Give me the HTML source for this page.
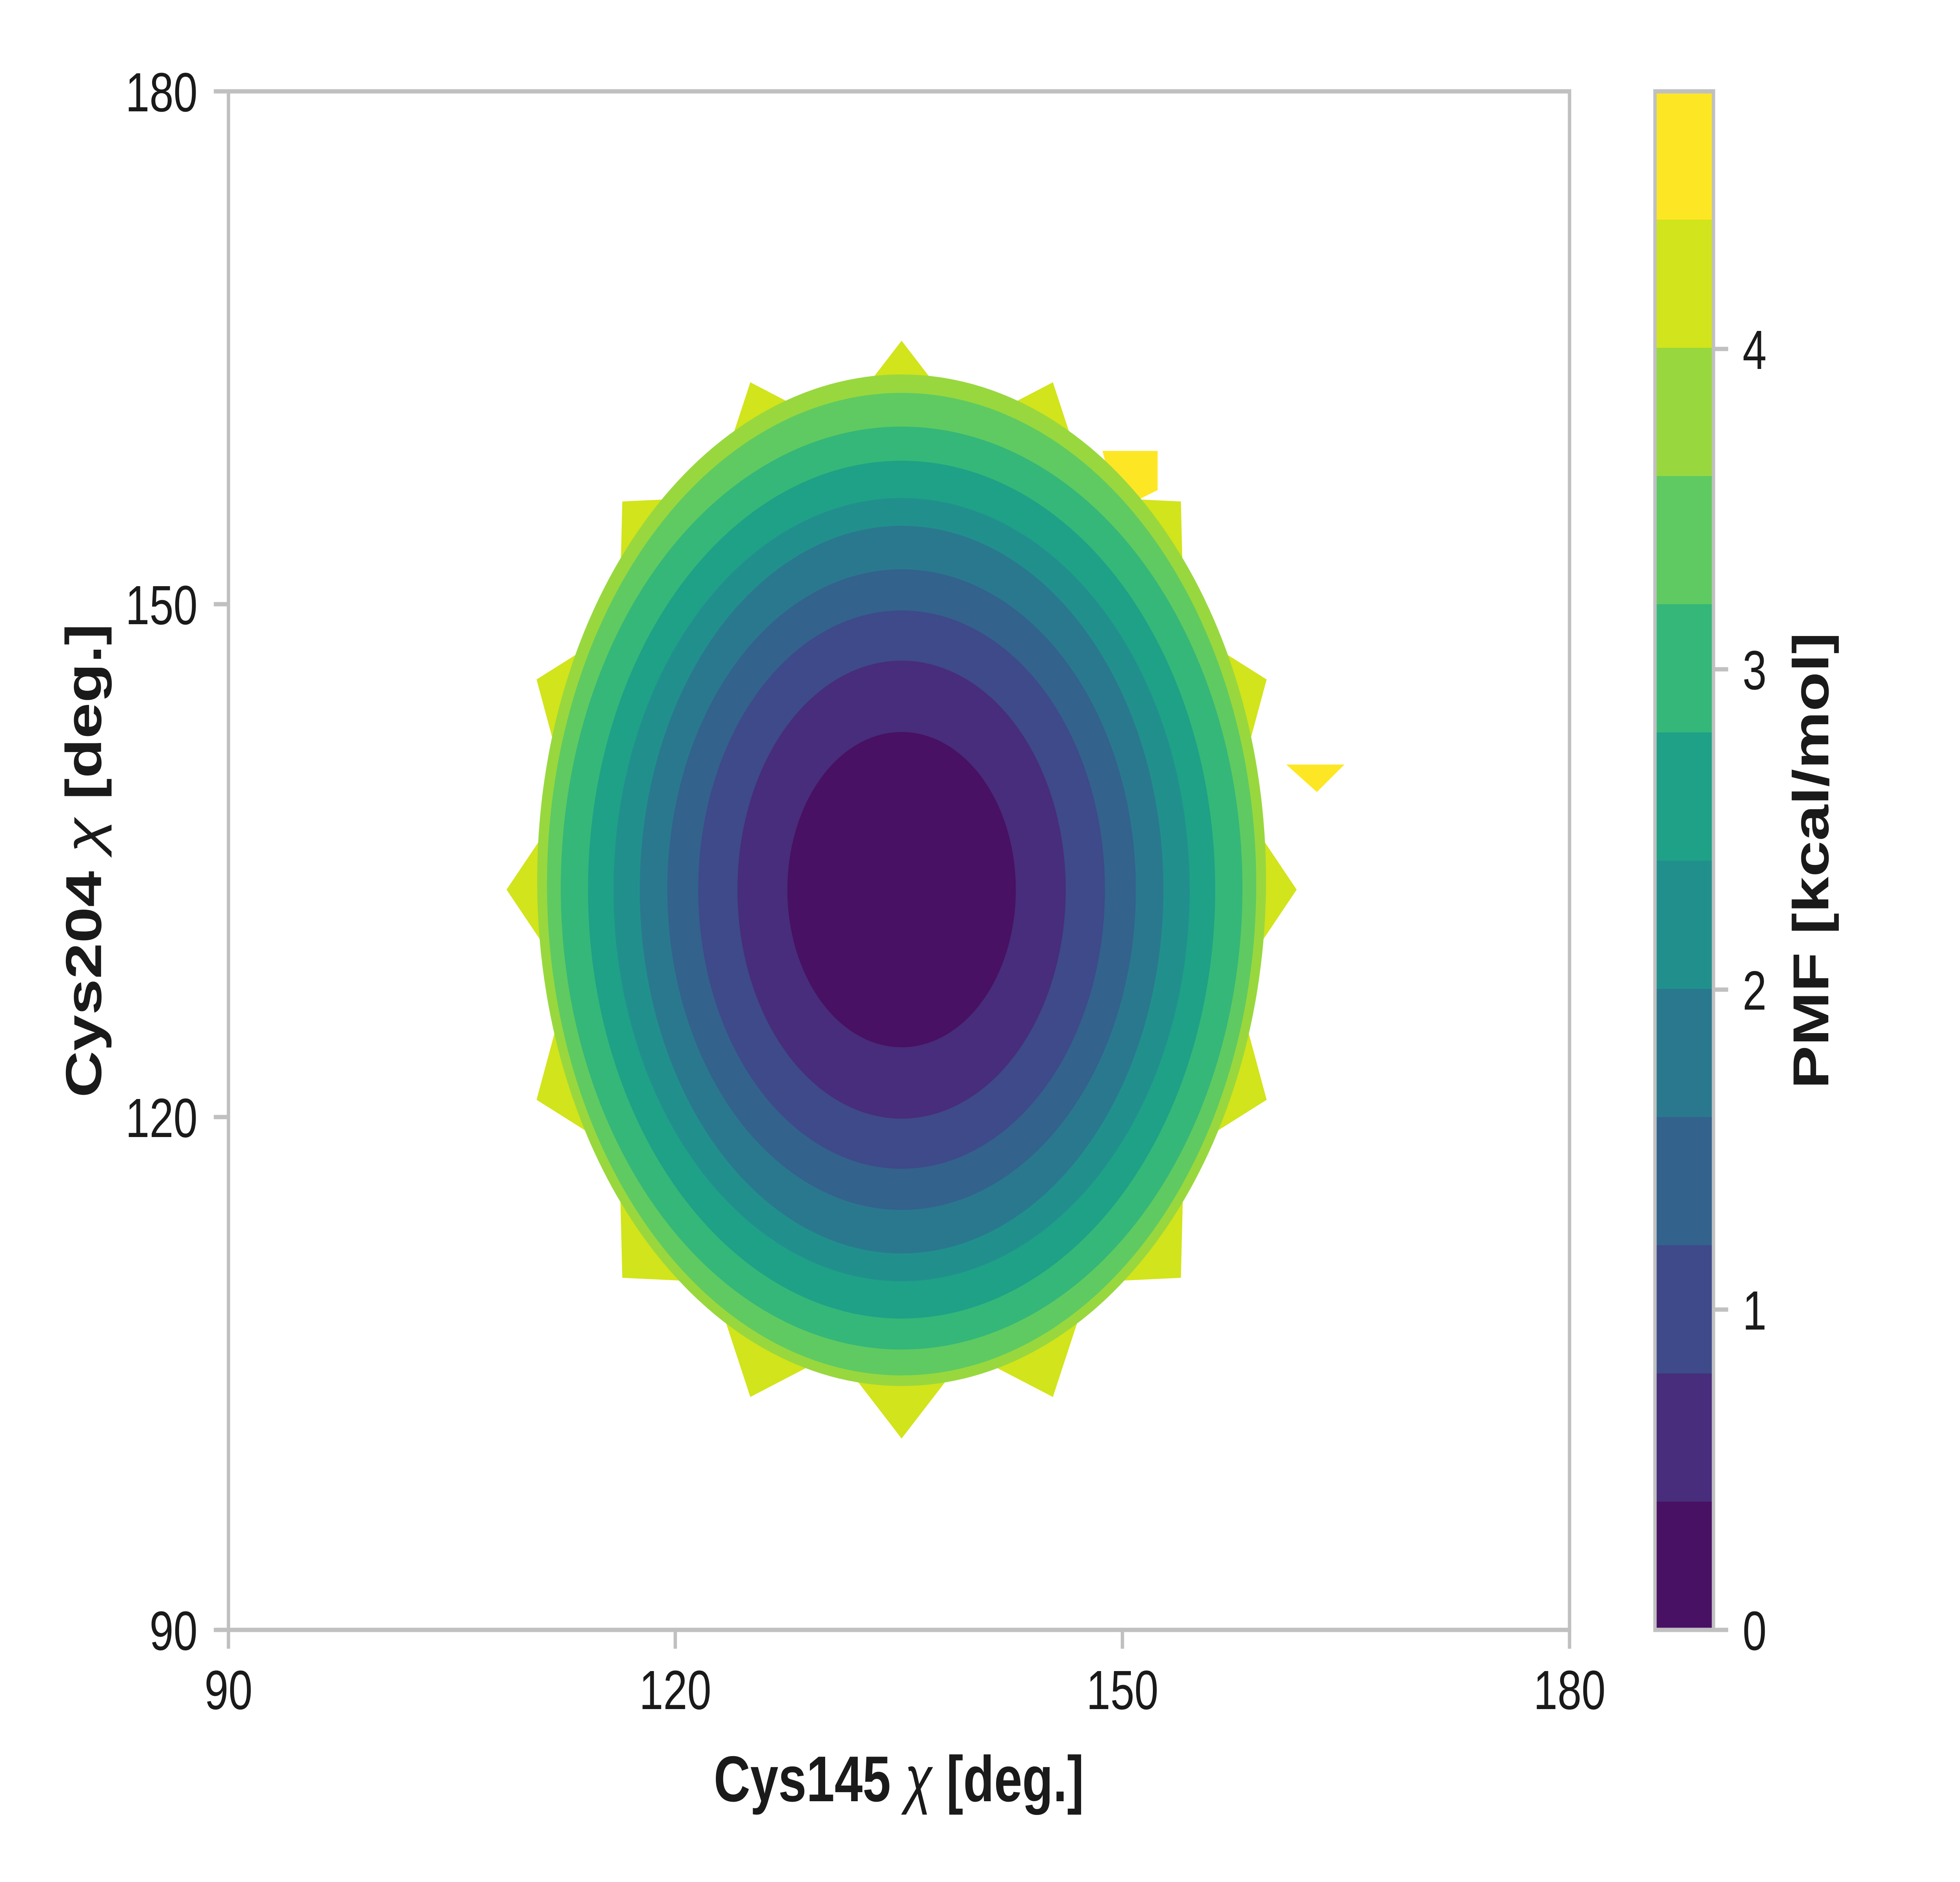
<!DOCTYPE html>
<html><head><meta charset="utf-8"><style>html,body{margin:0;padding:0;background:#fff;width:100%;height:100%;overflow:hidden}svg{display:block;width:100vw;height:100vh}</style></head>
<body>
<svg viewBox="0 0 6400 4800" preserveAspectRatio="none" xmlns="http://www.w3.org/2000/svg" font-family="Liberation Sans, sans-serif">
<rect width="6400" height="4800" fill="#fff"/>
<g>
<polygon fill="#d2e41b" points="4234,2269 4032,2504 4136,2805 3866,2938 3856,3259 3561,3270 3438,3563 3160,3450 2944,3669 2728,3450 2450,3563 2327,3270 2032,3259 2022,2938 1752,2805 1856,2504 1654,2269 1856,2034 1752,1733 2022,1600 2032,1279 2327,1268 2450,975 2728,1088 2944,869 3160,1088 3438,975 3561,1268 3856,1279 3866,1600 4136,1733 4032,2034"/>
<polygon fill="#fde724" points="3600,1150 3780,1150 3780,1250 3650,1300"/>
<polygon fill="#fde724" points="4200,1950 4390,1950 4300,2020"/>
<ellipse cx="2944" cy="2245" rx="1190" ry="1290" fill="#98d83e"/>
<ellipse cx="2944" cy="2255" rx="1158" ry="1253" fill="#5fca61"/>
<ellipse cx="2944" cy="2265" rx="1113" ry="1177" fill="#35b779"/>
<ellipse cx="2944" cy="2269" rx="1024" ry="1094" fill="#1fa187"/>
<ellipse cx="2944" cy="2269" rx="941" ry="999" fill="#21908d"/>
<ellipse cx="2944" cy="2269" rx="855" ry="928" fill="#2a788e"/>
<ellipse cx="2944" cy="2269" rx="765" ry="817" fill="#33628d"/>
<ellipse cx="2944" cy="2269" rx="664" ry="712" fill="#3e4a89"/>
<ellipse cx="2944" cy="2269" rx="536" ry="584" fill="#472d7b"/>
<ellipse cx="2944" cy="2269" rx="373" ry="402" fill="#481163"/>
</g>
<g stroke="#c0c0c0" stroke-width="11" fill="none">
<rect x="746" y="233" width="4379" height="3924"/>
<line x1="746" y1="4157" x2="746" y2="4205"/>
<line x1="2205" y1="4157" x2="2205" y2="4205"/>
<line x1="3665" y1="4157" x2="3665" y2="4205"/>
<line x1="5125" y1="4157" x2="5125" y2="4205"/>
<line x1="698" y1="4157" x2="746" y2="4157"/>
<line x1="698" y1="2849" x2="746" y2="2849"/>
<line x1="698" y1="1541" x2="746" y2="1541"/>
<line x1="698" y1="233" x2="746" y2="233"/>
</g>
<g fill="#1a1a1a" font-size="141" text-anchor="middle">
<text x="746" y="4359">90</text>
<text x="2205" y="4359">120</text>
<text x="3665" y="4359">150</text>
<text x="5125" y="4359">180</text>
</g>
<g fill="#1a1a1a" font-size="141" text-anchor="end">
<text x="645" y="4208">90</text>
<text x="645" y="2900">120</text>
<text x="645" y="1592">150</text>
<text x="645" y="284">180</text>
</g>
<text x="2935" y="4594" font-size="165" font-weight="bold" text-anchor="middle" fill="#1a1a1a">Cys145 <tspan font-style="italic" font-weight="normal">χ</tspan> [deg.]</text>
<text transform="translate(330,2195) rotate(-90)" font-size="165" font-weight="bold" text-anchor="middle" fill="#1a1a1a">Cys204 <tspan font-style="italic" font-weight="normal">χ</tspan> [deg.]</text>
<g>
<rect x="5404" y="233" width="191" height="327" fill="#fde724"/>
<rect x="5404" y="560" width="191" height="327" fill="#d2e41b"/>
<rect x="5404" y="887" width="191" height="327" fill="#98d83e"/>
<rect x="5404" y="1214" width="191" height="327" fill="#5fca61"/>
<rect x="5404" y="1541" width="191" height="327" fill="#35b779"/>
<rect x="5404" y="1868" width="191" height="327" fill="#1fa187"/>
<rect x="5404" y="2195" width="191" height="327" fill="#21908d"/>
<rect x="5404" y="2522" width="191" height="327" fill="#2a788e"/>
<rect x="5404" y="2849" width="191" height="327" fill="#33628d"/>
<rect x="5404" y="3176" width="191" height="327" fill="#3e4a89"/>
<rect x="5404" y="3503" width="191" height="327" fill="#472d7b"/>
<rect x="5404" y="3830" width="191" height="327" fill="#481163"/>
</g>
<g stroke="#c0c0c0" stroke-width="11" fill="none">
<rect x="5404" y="233" width="191" height="3924"/>
<line x1="5595" y1="4157" x2="5643" y2="4157"/>
<line x1="5595" y1="3340" x2="5643" y2="3340"/>
<line x1="5595" y1="2524" x2="5643" y2="2524"/>
<line x1="5595" y1="1707" x2="5643" y2="1707"/>
<line x1="5595" y1="890" x2="5643" y2="890"/>
</g>
<g fill="#1a1a1a" font-size="141">
<text x="5690" y="4208">0</text>
<text x="5690" y="3391">1</text>
<text x="5690" y="2575">2</text>
<text x="5690" y="1758">3</text>
<text x="5690" y="941">4</text>
</g>
<text transform="translate(5970,2195) rotate(-90)" font-size="165" font-weight="bold" text-anchor="middle" fill="#1a1a1a">PMF [kcal/mol]</text>
</svg>
</body></html>
